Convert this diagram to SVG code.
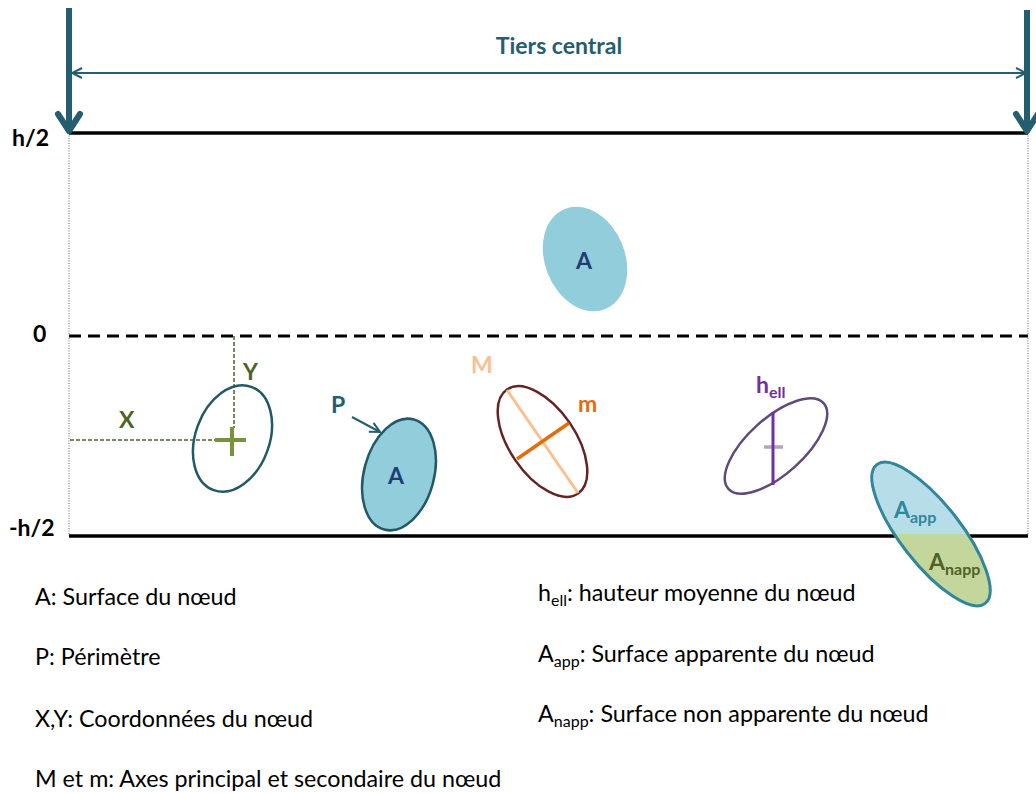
<svg xmlns="http://www.w3.org/2000/svg" width="1036" height="793" viewBox="0 0 1036 793">
<style>
text{font-family:Lato,"Open Sans","Liberation Sans",sans-serif}
.b{font-weight:bold}
.leg{font-size:23.3px;fill:#000}
.lbl{font-size:23px;font-weight:bold}
.teal{fill:#255E6E}
.olive{fill:#4F6228}
.navy{fill:#1F3E73}
.sub{font-size:16px}
</style>
<defs>
<marker id="open" viewBox="0 0 12 12" refX="11" refY="6" markerWidth="12" markerHeight="12" markerUnits="userSpaceOnUse" orient="auto-start-reverse">
<path d="M1,1 L11,6 L1,11" fill="none" stroke="#255E6E" stroke-width="2"/>
</marker>
<clipPath id="below" clipPathUnits="userSpaceOnUse"><rect x="800" y="534" width="236" height="100"/></clipPath>
</defs>

<g id="frame">
<line x1="69" y1="133" x2="1028" y2="133" stroke="#000" stroke-width="3.5"/>
<line x1="69" y1="336" x2="1028" y2="336" stroke="#000" stroke-width="3" stroke-dasharray="12,7"/>
<line x1="69" y1="536" x2="1028" y2="536" stroke="#000" stroke-width="3.5"/>
<line x1="69" y1="133" x2="69" y2="536" stroke="#666" stroke-width="1" stroke-dasharray="1,1.5"/>
<line x1="1028" y1="133" x2="1028" y2="536" stroke="#666" stroke-width="1" stroke-dasharray="1,1.5"/>
<text x="12" y="146" class="lbl">h/2</text>
<text x="33" y="342" class="lbl">0</text>
<text x="9" y="536" class="lbl">-h/2</text>
</g>

<g id="connectors">
<line x1="69" y1="8" x2="69" y2="128" stroke="#255E6E" stroke-width="6"/>
<path d="M58,114 L69,131 L80,114" fill="none" stroke="#255E6E" stroke-width="6" stroke-linecap="round" stroke-linejoin="round"/>
<line x1="1027" y1="10" x2="1027" y2="128" stroke="#255E6E" stroke-width="6"/>
<path d="M1016,114 L1027,131 L1038,114" fill="none" stroke="#255E6E" stroke-width="6" stroke-linecap="round" stroke-linejoin="round"/>
<line x1="72" y1="73" x2="1026" y2="73" stroke="#255E6E" stroke-width="2" marker-start="url(#open)" marker-end="url(#open)"/>
<line x1="352" y1="417" x2="380" y2="432" stroke="#255E6E" stroke-width="2" marker-end="url(#open)"/>
</g>

<g id="title">
<text x="559" y="54" text-anchor="middle" class="b teal" font-size="23">Tiers central</text>
</g>

<g id="node-A-top">
<ellipse cx="585" cy="259" rx="40" ry="54" transform="rotate(-22 585 259)" fill="#92CDDC"/>
<text x="584" y="269" text-anchor="middle" class="lbl navy">A</text>
</g>

<g id="node-XY">
<line x1="70" y1="440" x2="215" y2="440" stroke="#4F6228" stroke-width="1.5" stroke-dasharray="4,2"/>
<line x1="234" y1="336" x2="234" y2="428" stroke="#4F6228" stroke-width="1.5" stroke-dasharray="4,2"/>
<ellipse cx="232.5" cy="438.5" rx="37" ry="55" transform="rotate(20 232.5 438.5)" fill="none" stroke="#215968" stroke-width="2.5"/>
<line x1="215" y1="440" x2="246" y2="440" stroke="#77933C" stroke-width="4"/>
<line x1="232" y1="427" x2="232" y2="456" stroke="#77933C" stroke-width="4"/>
<text x="119" y="428" class="lbl olive">X</text>
<text x="243" y="380" class="lbl olive">Y</text>
</g>

<g id="node-P">
<ellipse cx="399" cy="474.5" rx="35" ry="57" transform="rotate(15 399 474.5)" fill="#92CDDC" stroke="#215968" stroke-width="2.5"/>
<text x="396" y="484" text-anchor="middle" class="lbl navy">A</text>
<text x="331" y="413" class="lbl teal">P</text>
</g>

<g id="node-Mm">
<ellipse cx="542.5" cy="441.5" rx="63" ry="33" transform="rotate(55.7 542.5 441.5)" fill="none" stroke="#632523" stroke-width="2.5"/>
<line x1="507" y1="390" x2="578" y2="493" stroke="#FAC090" stroke-width="3"/>
<line x1="517" y1="459" x2="569" y2="423" stroke="#E46C0A" stroke-width="3.5"/>
<text x="471" y="373" class="lbl" fill="#FAC090">M</text>
<text x="578" y="412" class="lbl" fill="#E46C0A">m</text>
</g>

<g id="node-hell">
<ellipse cx="776" cy="446" rx="64" ry="28" transform="rotate(-42 776 446)" fill="none" stroke="#604A7B" stroke-width="2.5"/>
<line x1="764" y1="447" x2="783" y2="447" stroke="#B3A2C7" stroke-width="3.5"/>
<line x1="773" y1="412" x2="773" y2="485" stroke="#7030A0" stroke-width="3"/>
<text x="756" y="393" class="lbl" fill="#7030A0">h<tspan class="sub" dy="5">ell</tspan></text>
</g>

<g id="node-Aapp">
<ellipse cx="931" cy="534" rx="88" ry="30" transform="rotate(52 931 534)" fill="#B7DEE8"/>
<g clip-path="url(#below)">
<ellipse cx="931" cy="534" rx="88" ry="30" transform="rotate(52 931 534)" fill="#C3D69B"/>
</g>
<ellipse cx="931" cy="534" rx="88" ry="30" transform="rotate(52 931 534)" fill="none" stroke="#31859C" stroke-width="3"/>
<text x="894" y="518" class="lbl" fill="#31859C">A<tspan class="sub" dy="5">app</tspan></text>
<text x="929" y="570" class="lbl olive">A<tspan class="sub" dy="5">napp</tspan></text>
</g>

<g id="legend">
<text x="35" y="605" class="leg">A: Surface du nœud</text>
<text x="35" y="665" class="leg">P: Périmètre</text>
<text x="35" y="727" class="leg">X,Y: Coordonnées du nœud</text>
<text x="35" y="787" class="leg">M et m: Axes principal et secondaire du nœud</text>
<text x="538" y="601" class="leg">h<tspan font-size="16" dy="5">ell</tspan><tspan dy="-5">: hauteur moyenne du nœud</tspan></text>
<text x="538" y="662" class="leg">A<tspan font-size="16" dy="5">app</tspan><tspan dy="-5">: Surface apparente du nœud</tspan></text>
<text x="538" y="722" class="leg">A<tspan font-size="16" dy="5">napp</tspan><tspan dy="-5">: Surface non apparente du nœud</tspan></text>
</g>
</svg>
